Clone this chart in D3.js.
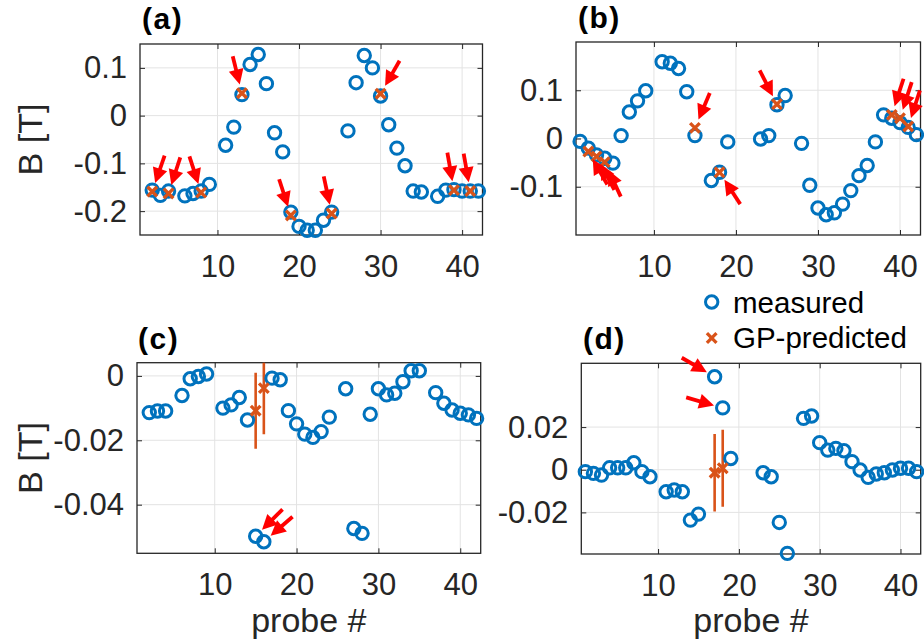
<!DOCTYPE html>
<html>
<head>
<meta charset="utf-8">
<script src="https://cdn.jsdelivr.net/npm/d3@7"></script>
<style>
  body { margin: 0; background: #fff; }
  text { font-family: "Liberation Sans", Arial, Helvetica, sans-serif; }
</style>
</head>
<body>
<div id="chart"></div>
<script>
// Data
const probes = [1,2,3,4,5,6,7,8,9,10,11,12,13,14,15,16,17,18,19,20,21,22,23,24,25,26,27,28,29,30,31,32,33,34,35,36,37,38,39,40,41,42]
const xTicks = [10, 20, 30, 40]

const measuredA = [null,-0.156,-0.167,-0.158,null,-0.168,-0.163,-0.158,-0.144,null,
    -0.062,-0.024,0.044,0.107,0.128,0.067,-0.036,-0.076,-0.202,-0.232,
    -0.240,-0.240,-0.219,-0.202,null,-0.032,0.069,0.126,0.100,0.041,
    -0.019,-0.068,-0.105,-0.158,-0.160,null,-0.169,-0.156,-0.155,-0.158,
    -0.158,-0.158]
const measuredB = [-0.006,-0.020,-0.034,-0.041,-0.051,0.006,0.055,0.078,0.099,null,
    0.159,0.156,0.145,0.097,0.006,null,-0.087,-0.070,-0.007,null,
    null,null,-0.001,0.006,0.070,0.089,null,-0.010,-0.097,-0.144,
    -0.158,-0.154,-0.136,-0.108,-0.077,-0.056,-0.007,0.049,0.042,0.033,
    0.023,0.008]
const measuredC = [null,-0.0114,-0.0109,-0.0109,null,-0.0061,-0.0009,-0.0002,0.0006,null,
    -0.0100,-0.0090,-0.0067,-0.0137,-0.0498,-0.0515,-0.0007,-0.0012,-0.0108,-0.0149,
    -0.0181,-0.0191,-0.0173,-0.0128,null,-0.0040,-0.0474,-0.0489,-0.0119,-0.0040,
    -0.0059,-0.0054,-0.0018,0.0016,0.0016,null,-0.0052,-0.0085,-0.0106,-0.0116,
    -0.0121,-0.0132]
const measuredD = [-0.0009,-0.0017,-0.0025,0.0009,0.0009,0.0009,0.0033,-0.0009,-0.0033,null,
    -0.0103,-0.0095,-0.0103,-0.0236,-0.0208,null,0.0436,0.0290,0.0053,null,
    null,null,-0.0014,-0.0033,-0.0247,-0.0392,null,0.0241,0.0252,0.0127,
    0.0092,0.0100,0.0089,0.0038,-0.0001,-0.0036,-0.0020,-0.0014,-0.0001,0.0007,
    0.0007,-0.0009]

// GP predictions
const predProbesA = [2,4,8,13,19,24,30,39,41]
const predA = [-0.159,-0.163,-0.161,0.047,-0.209,-0.205,0.046,-0.156,-0.158]
const predProbesB = [2,3,4,15,18,25,39,40,41]
const predB = [-0.027,-0.037,-0.049,0.022,-0.070,0.071,0.049,0.042,0.025]
const predProbesC = [15,16]
const predC = [-0.0108,-0.0038]
const predErrC = [0.0118,0.0143]
const predProbesD = [17,18]
const predD = [-0.0014,0.0007]
const predErrD = [0.0182,0.0180]

// arrows: which probe they point at, and the side they come from (deg)
const arrowProbesA = [2,4,8,13,19,24,30,39,41]
const arrowAnglesA = [71,72,108,104,108,102,60,100,100]
const arrowProbesB = [2,3,4,15,18,25,39,40,41]
const arrowAnglesB = [-60,-62,-65,67,-57,117,72,72,72]
const arrowProbesC = [15,16]
const arrowAnglesC = [45,41]
const arrowProbesD = [17,18]
const arrowAnglesD = [150,164]

const yTicksA = [-0.2,-0.1,0,0.1]
const yTicksB = [-0.1,0,0.1]
const yTicksC = [-0.04,-0.02,0]
const yTicksD = [-0.02,0,0.02]

const blue = "#0072BD"
const orange = "#D95319"
const axisColor = "#262626"

const panels = [
    {title: "(a)", left: 140, right: 482.5, top: 44, bottom: 235, yDomain: [-0.25, 0.15],
     yTicks: yTicksA, measured: measuredA, predProbes: predProbesA, pred: predA, err: null,
     arrowProbes: arrowProbesA, arrowAngles: arrowAnglesA, arrowOnPred: true,
     titleX: 142, titleY: 29, yLabel: true, xLabel: false},
    {title: "(b)", left: 576, right: 920.5, top: 42, bottom: 235, yDomain: [-0.2, 0.2],
     yTicks: yTicksB, measured: measuredB, predProbes: predProbesB, pred: predB, err: null,
     arrowProbes: arrowProbesB, arrowAngles: arrowAnglesB, arrowOnPred: true,
     titleX: 578, titleY: 28, yLabel: false, xLabel: false},
    {title: "(c)", left: 137, right: 480.7, top: 362.7, bottom: 553.3, yDomain: [-0.0551, 0.0041],
     yTicks: yTicksC, measured: measuredC, predProbes: predProbesC, pred: predC, err: predErrC,
     arrowProbes: arrowProbesC, arrowAngles: arrowAnglesC, arrowOnPred: false,
     titleX: 138, titleY: 349, yLabel: true, xLabel: true},
    {title: "(d)", left: 581.3, right: 920.7, top: 363.3, bottom: 554, yDomain: [-0.0395, 0.0499],
     yTicks: yTicksD, measured: measuredD, predProbes: predProbesD, pred: predD, err: predErrD,
     arrowProbes: arrowProbesD, arrowAngles: arrowAnglesD, arrowOnPred: false,
     titleX: 583, titleY: 349, yLabel: false, xLabel: true},
]

const svg = d3.select("#chart")
    .append("svg")
        .attr("width", 924)
        .attr("height", 644)
svg.append("rect")
    .attr("width", 924)
    .attr("height", 644)
    .attr("fill", "white")

const crossPath = s => `M${-s},${-s}L${s},${s}M${-s},${s}L${s},${-s}`

const drawArrow = (g, tx, ty, angle) => {
    const gap = 9, len = 29, headLen = 15, headW = 15
    const ux = Math.cos(angle * Math.PI / 180)
    const uy = -Math.sin(angle * Math.PI / 180)
    const tipX = tx + gap * ux, tipY = ty + gap * uy
    const baseX = tipX + headLen * ux, baseY = tipY + headLen * uy
    const tailX = tipX + len * ux, tailY = tipY + len * uy
    g.append("line")
        .attr("x1", tailX).attr("y1", tailY)
        .attr("x2", baseX - 2 * ux).attr("y2", baseY - 2 * uy)
        .attr("stroke", "#ff0000")
        .attr("stroke-width", 3.8)
    const px = -uy, py = ux
    g.append("path")
        .attr("d", `M${tipX},${tipY}L${baseX + px * headW / 2},${baseY + py * headW / 2}` +
                   `L${baseX - px * headW / 2},${baseY - py * headW / 2}Z`)
        .attr("fill", "#ff0000")
}

const drawPanel = (p, i) => {
    const xScale = d3.scaleLinear()
        .domain([0.5, 42.5])
        .range([p.left, p.right])
    const yScale = d3.scaleLinear()
        .domain(p.yDomain)
        .range([p.bottom, p.top])

    const g = svg.append("g")

  // grid
    g.selectAll(".gridx").data(xTicks).join("line")
        .attr("x1", d => xScale(d)).attr("x2", d => xScale(d))
        .attr("y1", p.top).attr("y2", p.bottom)
        .attr("stroke", "#e3e3e3").attr("stroke-width", 1)
    g.selectAll(".gridy").data(p.yTicks).join("line")
        .attr("x1", p.left).attr("x2", p.right)
        .attr("y1", d => yScale(d)).attr("y2", d => yScale(d))
        .attr("stroke", "#e3e3e3").attr("stroke-width", 1)

  // axes
    const styleAxis = sel => {
        sel.select(".domain").remove()
        sel.attr("color", axisColor)
            .attr("font-size", 31)
            .attr("font-family", "'Liberation Sans', Arial, Helvetica, sans-serif")
        sel.selectAll("line").attr("stroke-width", 1)
    }
    g.append("g")
        .attr("transform", `translate(0,${p.bottom})`)
        .call(d3.axisBottom(xScale).tickValues(xTicks).tickSize(-5).tickPadding(20))
        .call(styleAxis)
    g.append("g")
        .attr("transform", `translate(0,${p.top})`)
        .call(d3.axisTop(xScale).tickValues(xTicks).tickSize(-5).tickFormat(""))
        .call(styleAxis)
    g.append("g")
        .attr("transform", `translate(${p.left},0)`)
        .call(d3.axisLeft(yScale).tickValues(p.yTicks).tickSize(-5).tickPadding(13)
            .tickFormat(d => String(d)))
        .call(styleAxis)
    g.append("g")
        .attr("transform", `translate(${p.right},0)`)
        .call(d3.axisRight(yScale).tickValues(p.yTicks).tickSize(-5).tickFormat(""))
        .call(styleAxis)

    g.append("rect")
        .attr("x", p.left).attr("y", p.top)
        .attr("width", p.right - p.left).attr("height", p.bottom - p.top)
        .attr("fill", "none")
        .attr("stroke", axisColor)
        .attr("stroke-width", 1.3)

  // error bars (clipped to the box)
    const clipId = `clip-${i}`
    svg.append("clipPath").attr("id", clipId)
        .append("rect")
        .attr("x", p.left).attr("y", p.top)
        .attr("width", p.right - p.left).attr("height", p.bottom - p.top)
    if (p.err) {
        g.append("g").attr("clip-path", `url(#${clipId})`)
            .selectAll("line").data(p.predProbes).join("line")
            .attr("x1", d => xScale(d)).attr("x2", d => xScale(d))
            .attr("y1", (d, j) => yScale(p.pred[j] - p.err[j]))
            .attr("y2", (d, j) => yScale(p.pred[j] + p.err[j]))
            .attr("stroke", orange)
            .attr("stroke-width", 2.6)
    }

  // measured
    const pts = probes.map((d, j) => ({probe: d, value: p.measured[j]}))
        .filter(d => d.value !== null)
    g.append("g").selectAll("circle").data(pts).join("circle")
        .attr("cx", d => xScale(d.probe))
        .attr("cy", d => yScale(d.value))
        .attr("r", 6.2)
        .attr("fill", "none")
        .attr("stroke", blue)
        .attr("stroke-width", 3)

  // predicted
    g.append("g").selectAll("path").data(p.predProbes).join("path")
        .attr("transform", (d, j) => `translate(${xScale(d)},${yScale(p.pred[j])})`)
        .attr("d", crossPath(4.8))
        .attr("stroke", orange)
        .attr("stroke-width", 3.3)
        .attr("fill", "none")

  // arrows
    const arrows = g.append("g")
    p.arrowProbes.forEach((pr, j) => {
        const v = p.arrowOnPred
            ? p.pred[p.predProbes.indexOf(pr)]
            : p.measured[probes.indexOf(pr)]
        drawArrow(arrows, xScale(pr), yScale(v), p.arrowAngles[j])
    })

  // labels
    g.append("text")
        .attr("x", p.titleX).attr("y", p.titleY)
        .attr("font-size", 30)
        .attr("font-weight", "bold")
        .attr("letter-spacing", 1.5)
        .attr("fill", "#000")
        .text(p.title)
    if (p.yLabel) {
        const cy = (p.top + p.bottom) / 2
        g.append("text")
            .attr("transform", `translate(42,${cy}) rotate(-90)`)
            .attr("text-anchor", "middle")
            .attr("font-size", 34)
            .attr("fill", axisColor)
            .text("B [T]")
    }
    if (p.xLabel) {
        g.append("text")
            .attr("x", (p.left + p.right) / 2)
            .attr("y", 632)
            .attr("text-anchor", "middle")
            .attr("font-size", 34)
            .attr("fill", axisColor)
            .text("probe #")
    }
}

panels.forEach(drawPanel)

// Legend
const legend = svg.append("g")
legend.append("circle")
    .attr("cx", 711.7).attr("cy", 302)
    .attr("r", 6.2)
    .attr("fill", "none")
    .attr("stroke", blue)
    .attr("stroke-width", 3)
legend.append("path")
    .attr("transform", "translate(711.7,338)")
    .attr("d", crossPath(4.8))
    .attr("stroke", orange)
    .attr("stroke-width", 3.3)
legend.append("text")
    .attr("x", 733).attr("y", 313)
    .attr("font-size", 29.5)
    .attr("fill", "#000")
    .text("measured")
legend.append("text")
    .attr("x", 733).attr("y", 348)
    .attr("font-size", 29.5)
    .attr("fill", "#000")
    .text("GP-predicted")
</script>
</body>
</html>
